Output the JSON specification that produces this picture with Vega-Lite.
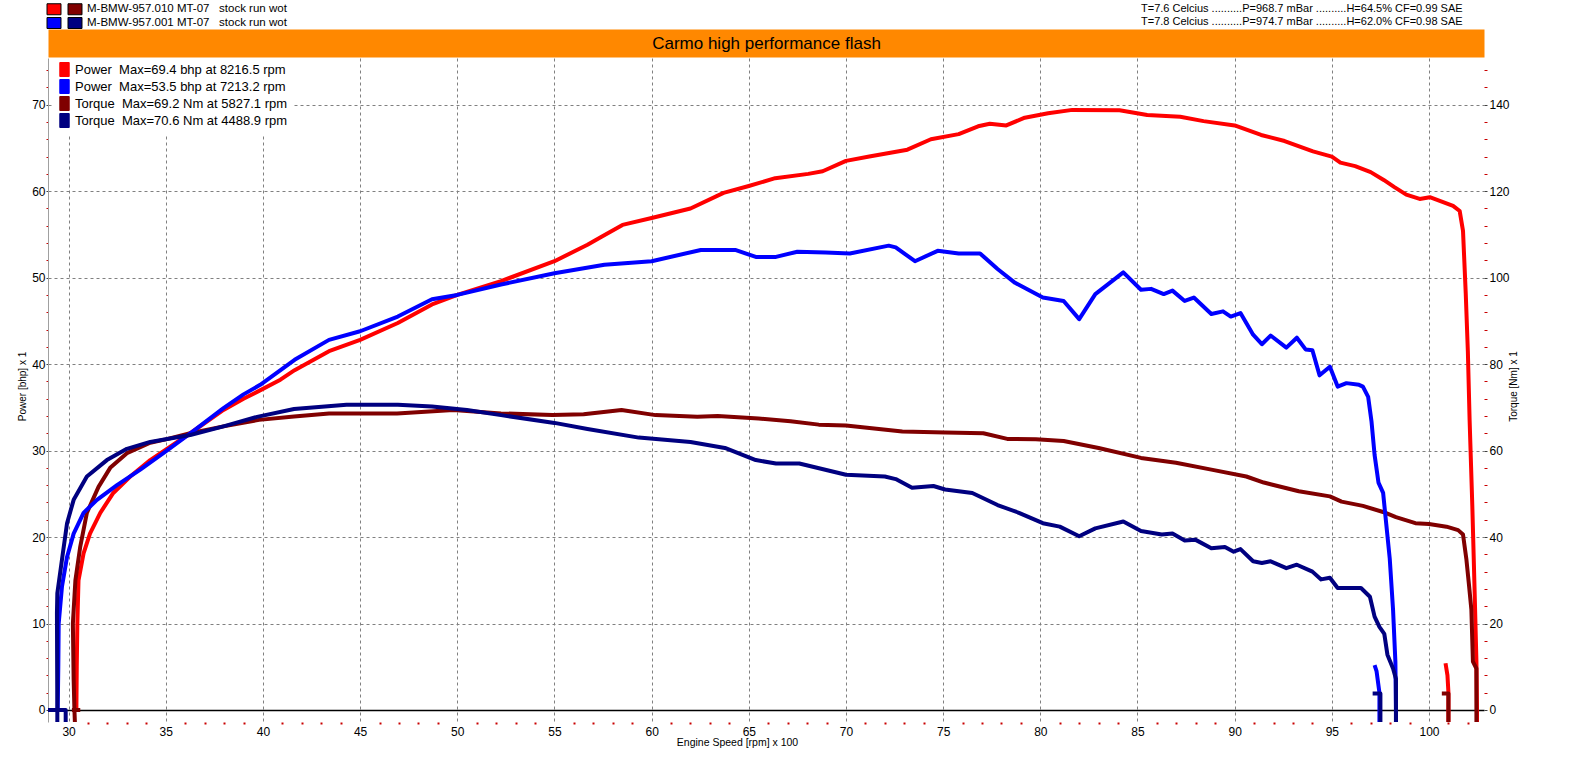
{
  "$schema": "https://vega.github.io/schema/vega-lite/v6.json",
  "width": 1436,
  "height": 664,
  "autosize": "none",
  "padding": {"left": 48, "top": 58, "right": 96, "bottom": 46},
  "background": "white",
  "title": {
    "text": [
      "T=7.6 Celcius ..........P=968.7 mBar ..........H=64.5% CF=0.99 SAE",
      "T=7.8 Celcius ..........P=974.7 mBar ..........H=62.0% CF=0.98 SAE"
    ],
    "anchor": "start",
    "frame": "group",
    "dx": 1093,
    "dy": 26,
    "offset": 2,
    "fontSize": 11,
    "fontWeight": "normal",
    "lineHeight": 13,
    "color": "black"
  },
  "datasets": {
    "p1": [
      {"s": "P1", "seg": "a", "rpm": 30.4, "v": 0}, {"s": "P1", "seg": "a", "rpm": 30.42, "v": 5},
      {"s": "P1", "seg": "a", "rpm": 30.45, "v": 10}, {"s": "P1", "seg": "a", "rpm": 30.51, "v": 15},
      {"s": "P1", "seg": "a", "rpm": 30.77, "v": 18.1}, {"s": "P1", "seg": "a", "rpm": 31.1, "v": 20.4},
      {"s": "P1", "seg": "a", "rpm": 31.63, "v": 22.8}, {"s": "P1", "seg": "a", "rpm": 32.3, "v": 25.1},
      {"s": "P1", "seg": "a", "rpm": 33.17, "v": 27.0}, {"s": "P1", "seg": "a", "rpm": 34.2, "v": 28.9},
      {"s": "P1", "seg": "a", "rpm": 35.0, "v": 30.1}, {"s": "P1", "seg": "a", "rpm": 36.26, "v": 32.0},
      {"s": "P1", "seg": "a", "rpm": 37.97, "v": 34.7}, {"s": "P1", "seg": "a", "rpm": 39.0, "v": 36.0},
      {"s": "P1", "seg": "a", "rpm": 39.8, "v": 36.9}, {"s": "P1", "seg": "a", "rpm": 40.9, "v": 38.2},
      {"s": "P1", "seg": "a", "rpm": 41.63, "v": 39.3}, {"s": "P1", "seg": "a", "rpm": 43.4, "v": 41.5},
      {"s": "P1", "seg": "a", "rpm": 45.0, "v": 42.8}, {"s": "P1", "seg": "a", "rpm": 46.94, "v": 44.75},
      {"s": "P1", "seg": "a", "rpm": 48.7, "v": 46.9}, {"s": "P1", "seg": "a", "rpm": 50.0, "v": 48.0},
      {"s": "P1", "seg": "a", "rpm": 52.25, "v": 49.6}, {"s": "P1", "seg": "a", "rpm": 55.0, "v": 51.9},
      {"s": "P1", "seg": "a", "rpm": 56.7, "v": 53.8}, {"s": "P1", "seg": "a", "rpm": 57.4, "v": 54.7},
      {"s": "P1", "seg": "a", "rpm": 58.5, "v": 56.1}, {"s": "P1", "seg": "a", "rpm": 60.0, "v": 56.9},
      {"s": "P1", "seg": "a", "rpm": 62.0, "v": 58.0}, {"s": "P1", "seg": "a", "rpm": 63.7, "v": 59.8},
      {"s": "P1", "seg": "a", "rpm": 65.0, "v": 60.6}, {"s": "P1", "seg": "a", "rpm": 66.36, "v": 61.5},
      {"s": "P1", "seg": "a", "rpm": 68.06, "v": 62.0}, {"s": "P1", "seg": "a", "rpm": 68.8, "v": 62.3},
      {"s": "P1", "seg": "a", "rpm": 70.0, "v": 63.5}, {"s": "P1", "seg": "a", "rpm": 71.2, "v": 64.0},
      {"s": "P1", "seg": "a", "rpm": 73.16, "v": 64.8}, {"s": "P1", "seg": "a", "rpm": 74.37, "v": 66.0},
      {"s": "P1", "seg": "a", "rpm": 75.8, "v": 66.6}, {"s": "P1", "seg": "a", "rpm": 76.8, "v": 67.5},
      {"s": "P1", "seg": "a", "rpm": 77.4, "v": 67.8}, {"s": "P1", "seg": "a", "rpm": 78.25, "v": 67.6},
      {"s": "P1", "seg": "a", "rpm": 79.2, "v": 68.5}, {"s": "P1", "seg": "a", "rpm": 80.4, "v": 69.0},
      {"s": "P1", "seg": "a", "rpm": 81.65, "v": 69.4}, {"s": "P1", "seg": "a", "rpm": 84.08, "v": 69.35},
      {"s": "P1", "seg": "a", "rpm": 85.5, "v": 68.8}, {"s": "P1", "seg": "a", "rpm": 87.2, "v": 68.6},
      {"s": "P1", "seg": "a", "rpm": 88.4, "v": 68.1}, {"s": "P1", "seg": "a", "rpm": 90.0, "v": 67.6},
      {"s": "P1", "seg": "a", "rpm": 91.36, "v": 66.5}, {"s": "P1", "seg": "a", "rpm": 92.57, "v": 65.8},
      {"s": "P1", "seg": "a", "rpm": 94.03, "v": 64.6}, {"s": "P1", "seg": "a", "rpm": 95.0, "v": 64.0},
      {"s": "P1", "seg": "a", "rpm": 95.44, "v": 63.3}, {"s": "P1", "seg": "a", "rpm": 96.2, "v": 62.9},
      {"s": "P1", "seg": "a", "rpm": 97.0, "v": 62.2}, {"s": "P1", "seg": "a", "rpm": 97.67, "v": 61.3},
      {"s": "P1", "seg": "a", "rpm": 98.2, "v": 60.5}, {"s": "P1", "seg": "a", "rpm": 98.83, "v": 59.6},
      {"s": "P1", "seg": "a", "rpm": 99.52, "v": 59.1}, {"s": "P1", "seg": "a", "rpm": 100.04, "v": 59.3},
      {"s": "P1", "seg": "a", "rpm": 101.24, "v": 58.3}, {"s": "P1", "seg": "a", "rpm": 101.58, "v": 57.7},
      {"s": "P1", "seg": "a", "rpm": 101.75, "v": 55.4}, {"s": "P1", "seg": "a", "rpm": 101.89, "v": 48.2},
      {"s": "P1", "seg": "a", "rpm": 102.0, "v": 41.4}, {"s": "P1", "seg": "a", "rpm": 102.09, "v": 33.5},
      {"s": "P1", "seg": "a", "rpm": 102.23, "v": 23.5}, {"s": "P1", "seg": "a", "rpm": 102.35, "v": 13.5},
      {"s": "P1", "seg": "a", "rpm": 102.44, "v": 5.6}, {"s": "P1", "seg": "a", "rpm": 102.47, "v": 0},
      {"s": "P1", "seg": "a", "rpm": 102.47, "v": -3},
      {"s": "P1", "seg": "b", "rpm": 100.85, "v": 5.4}, {"s": "P1", "seg": "b", "rpm": 100.95, "v": 4.0},
      {"s": "P1", "seg": "b", "rpm": 101.0, "v": 2.0}, {"s": "P1", "seg": "b", "rpm": 101.0, "v": -3}
    ],
    "p2": [
      {"s": "P2", "seg": "a", "rpm": 29.44, "v": 0}, {"s": "P2", "seg": "a", "rpm": 29.47, "v": 5},
      {"s": "P2", "seg": "a", "rpm": 29.49, "v": 10}, {"s": "P2", "seg": "a", "rpm": 29.66, "v": 14.3},
      {"s": "P2", "seg": "a", "rpm": 29.92, "v": 17.7}, {"s": "P2", "seg": "a", "rpm": 30.26, "v": 20.4},
      {"s": "P2", "seg": "a", "rpm": 30.77, "v": 22.8}, {"s": "P2", "seg": "a", "rpm": 31.46, "v": 24.3},
      {"s": "P2", "seg": "a", "rpm": 32.49, "v": 26.0}, {"s": "P2", "seg": "a", "rpm": 33.69, "v": 27.8},
      {"s": "P2", "seg": "a", "rpm": 35.0, "v": 29.9}, {"s": "P2", "seg": "a", "rpm": 36.26, "v": 32.0},
      {"s": "P2", "seg": "a", "rpm": 37.97, "v": 34.9}, {"s": "P2", "seg": "a", "rpm": 39.0, "v": 36.5},
      {"s": "P2", "seg": "a", "rpm": 39.86, "v": 37.6}, {"s": "P2", "seg": "a", "rpm": 41.63, "v": 40.5},
      {"s": "P2", "seg": "a", "rpm": 43.4, "v": 42.8}, {"s": "P2", "seg": "a", "rpm": 45.0, "v": 43.8},
      {"s": "P2", "seg": "a", "rpm": 46.94, "v": 45.5}, {"s": "P2", "seg": "a", "rpm": 48.7, "v": 47.5},
      {"s": "P2", "seg": "a", "rpm": 50.0, "v": 48.0}, {"s": "P2", "seg": "a", "rpm": 52.25, "v": 49.2},
      {"s": "P2", "seg": "a", "rpm": 55.0, "v": 50.5}, {"s": "P2", "seg": "a", "rpm": 57.57, "v": 51.5},
      {"s": "P2", "seg": "a", "rpm": 60.0, "v": 51.9}, {"s": "P2", "seg": "a", "rpm": 62.53, "v": 53.2},
      {"s": "P2", "seg": "a", "rpm": 64.3, "v": 53.2}, {"s": "P2", "seg": "a", "rpm": 65.36, "v": 52.4},
      {"s": "P2", "seg": "a", "rpm": 66.4, "v": 52.4}, {"s": "P2", "seg": "a", "rpm": 67.5, "v": 53.0},
      {"s": "P2", "seg": "a", "rpm": 68.95, "v": 52.9}, {"s": "P2", "seg": "a", "rpm": 70.2, "v": 52.8},
      {"s": "P2", "seg": "a", "rpm": 72.2, "v": 53.7}, {"s": "P2", "seg": "a", "rpm": 72.56, "v": 53.5},
      {"s": "P2", "seg": "a", "rpm": 73.55, "v": 51.9}, {"s": "P2", "seg": "a", "rpm": 74.72, "v": 53.1},
      {"s": "P2", "seg": "a", "rpm": 75.8, "v": 52.8}, {"s": "P2", "seg": "a", "rpm": 76.9, "v": 52.8},
      {"s": "P2", "seg": "a", "rpm": 77.8, "v": 51.0}, {"s": "P2", "seg": "a", "rpm": 78.7, "v": 49.4},
      {"s": "P2", "seg": "a", "rpm": 80.13, "v": 47.7}, {"s": "P2", "seg": "a", "rpm": 81.2, "v": 47.3},
      {"s": "P2", "seg": "a", "rpm": 82.0, "v": 45.2}, {"s": "P2", "seg": "a", "rpm": 82.83, "v": 48.1},
      {"s": "P2", "seg": "a", "rpm": 84.27, "v": 50.6}, {"s": "P2", "seg": "a", "rpm": 85.18, "v": 48.6},
      {"s": "P2", "seg": "a", "rpm": 85.7, "v": 48.7}, {"s": "P2", "seg": "a", "rpm": 86.35, "v": 48.1},
      {"s": "P2", "seg": "a", "rpm": 86.8, "v": 48.5}, {"s": "P2", "seg": "a", "rpm": 87.43, "v": 47.3},
      {"s": "P2", "seg": "a", "rpm": 87.9, "v": 47.7}, {"s": "P2", "seg": "a", "rpm": 88.8, "v": 45.8},
      {"s": "P2", "seg": "a", "rpm": 89.4, "v": 46.1}, {"s": "P2", "seg": "a", "rpm": 89.8, "v": 45.5},
      {"s": "P2", "seg": "a", "rpm": 90.3, "v": 45.9}, {"s": "P2", "seg": "a", "rpm": 90.95, "v": 43.4},
      {"s": "P2", "seg": "a", "rpm": 91.4, "v": 42.3}, {"s": "P2", "seg": "a", "rpm": 91.85, "v": 43.3},
      {"s": "P2", "seg": "a", "rpm": 92.66, "v": 41.9}, {"s": "P2", "seg": "a", "rpm": 93.2, "v": 43.05},
      {"s": "P2", "seg": "a", "rpm": 93.65, "v": 41.7}, {"s": "P2", "seg": "a", "rpm": 94.0, "v": 41.6},
      {"s": "P2", "seg": "a", "rpm": 94.37, "v": 38.7}, {"s": "P2", "seg": "a", "rpm": 94.9, "v": 39.7},
      {"s": "P2", "seg": "a", "rpm": 95.3, "v": 37.4}, {"s": "P2", "seg": "a", "rpm": 95.75, "v": 37.8},
      {"s": "P2", "seg": "a", "rpm": 96.4, "v": 37.6}, {"s": "P2", "seg": "a", "rpm": 96.6, "v": 37.4},
      {"s": "P2", "seg": "a", "rpm": 96.87, "v": 36.2}, {"s": "P2", "seg": "a", "rpm": 97.04, "v": 33.4},
      {"s": "P2", "seg": "a", "rpm": 97.2, "v": 29.5}, {"s": "P2", "seg": "a", "rpm": 97.4, "v": 26.3},
      {"s": "P2", "seg": "a", "rpm": 97.64, "v": 25.1}, {"s": "P2", "seg": "a", "rpm": 97.8, "v": 21.5},
      {"s": "P2", "seg": "a", "rpm": 97.98, "v": 17.5}, {"s": "P2", "seg": "a", "rpm": 98.15, "v": 11.6},
      {"s": "P2", "seg": "a", "rpm": 98.27, "v": 5.6}, {"s": "P2", "seg": "a", "rpm": 98.3, "v": 0},
      {"s": "P2", "seg": "a", "rpm": 98.3, "v": -3},
      {"s": "P2", "seg": "b", "rpm": 97.2, "v": 5.2}, {"s": "P2", "seg": "b", "rpm": 97.3, "v": 4.5},
      {"s": "P2", "seg": "b", "rpm": 97.45, "v": 2.0}, {"s": "P2", "seg": "b", "rpm": 97.45, "v": -3}
    ],
    "t1": [
      {"s": "T1", "seg": "c", "rpm": 30.17, "v": 0}, {"s": "T1", "seg": "c", "rpm": 30.6, "v": 0},
      {"s": "T1", "seg": "a", "rpm": 30.35, "v": -6}, {"s": "T1", "seg": "a", "rpm": 30.3, "v": 0},
      {"s": "T1", "seg": "a", "rpm": 30.26, "v": 7}, {"s": "T1", "seg": "a", "rpm": 30.22, "v": 20},
      {"s": "T1", "seg": "a", "rpm": 30.35, "v": 30}, {"s": "T1", "seg": "a", "rpm": 30.6, "v": 37.8},
      {"s": "T1", "seg": "a", "rpm": 30.94, "v": 45.6}, {"s": "T1", "seg": "a", "rpm": 31.54, "v": 51.6},
      {"s": "T1", "seg": "a", "rpm": 32.14, "v": 56}, {"s": "T1", "seg": "a", "rpm": 33.0, "v": 59.4},
      {"s": "T1", "seg": "a", "rpm": 34.2, "v": 61.8}, {"s": "T1", "seg": "a", "rpm": 35.0, "v": 62.6},
      {"s": "T1", "seg": "a", "rpm": 36.26, "v": 64}, {"s": "T1", "seg": "a", "rpm": 37.97, "v": 65.6},
      {"s": "T1", "seg": "a", "rpm": 39.8, "v": 67.1}, {"s": "T1", "seg": "a", "rpm": 41.6, "v": 67.9},
      {"s": "T1", "seg": "a", "rpm": 43.4, "v": 68.6}, {"s": "T1", "seg": "a", "rpm": 46.9, "v": 68.6},
      {"s": "T1", "seg": "a", "rpm": 49.8, "v": 69.4}, {"s": "T1", "seg": "a", "rpm": 52.25, "v": 68.6},
      {"s": "T1", "seg": "a", "rpm": 54.9, "v": 68.2}, {"s": "T1", "seg": "a", "rpm": 56.5, "v": 68.4},
      {"s": "T1", "seg": "a", "rpm": 58.45, "v": 69.4}, {"s": "T1", "seg": "a", "rpm": 60.2, "v": 68.2},
      {"s": "T1", "seg": "a", "rpm": 62.35, "v": 67.8}, {"s": "T1", "seg": "a", "rpm": 63.4, "v": 68},
      {"s": "T1", "seg": "a", "rpm": 65.5, "v": 67.4}, {"s": "T1", "seg": "a", "rpm": 67.15, "v": 66.8},
      {"s": "T1", "seg": "a", "rpm": 68.6, "v": 66}, {"s": "T1", "seg": "a", "rpm": 70.0, "v": 65.8},
      {"s": "T1", "seg": "a", "rpm": 72.9, "v": 64.4}, {"s": "T1", "seg": "a", "rpm": 75.1, "v": 64.2},
      {"s": "T1", "seg": "a", "rpm": 77.07, "v": 64}, {"s": "T1", "seg": "a", "rpm": 78.3, "v": 62.7},
      {"s": "T1", "seg": "a", "rpm": 79.77, "v": 62.6}, {"s": "T1", "seg": "a", "rpm": 81.2, "v": 62.2},
      {"s": "T1", "seg": "a", "rpm": 83.0, "v": 60.6}, {"s": "T1", "seg": "a", "rpm": 85.18, "v": 58.3},
      {"s": "T1", "seg": "a", "rpm": 86.98, "v": 57.2}, {"s": "T1", "seg": "a", "rpm": 88.8, "v": 55.6},
      {"s": "T1", "seg": "a", "rpm": 90.6, "v": 54}, {"s": "T1", "seg": "a", "rpm": 91.5, "v": 52.6},
      {"s": "T1", "seg": "a", "rpm": 93.3, "v": 50.6}, {"s": "T1", "seg": "a", "rpm": 94.9, "v": 49.4},
      {"s": "T1", "seg": "a", "rpm": 95.5, "v": 48.2}, {"s": "T1", "seg": "a", "rpm": 96.6, "v": 47.2},
      {"s": "T1", "seg": "a", "rpm": 97.64, "v": 45.8}, {"s": "T1", "seg": "a", "rpm": 98.3, "v": 44.6},
      {"s": "T1", "seg": "a", "rpm": 99.3, "v": 43.2}, {"s": "T1", "seg": "a", "rpm": 100.0, "v": 43},
      {"s": "T1", "seg": "a", "rpm": 100.9, "v": 42.4}, {"s": "T1", "seg": "a", "rpm": 101.5, "v": 41.6},
      {"s": "T1", "seg": "a", "rpm": 101.75, "v": 40.6}, {"s": "T1", "seg": "a", "rpm": 101.92, "v": 35},
      {"s": "T1", "seg": "a", "rpm": 102.06, "v": 28.8}, {"s": "T1", "seg": "a", "rpm": 102.18, "v": 23.2},
      {"s": "T1", "seg": "a", "rpm": 102.26, "v": 11.2}, {"s": "T1", "seg": "a", "rpm": 102.44, "v": 9.6},
      {"s": "T1", "seg": "a", "rpm": 102.44, "v": 0}, {"s": "T1", "seg": "a", "rpm": 102.44, "v": -6},
      {"s": "T1", "seg": "b", "rpm": 100.66, "v": 3.8}, {"s": "T1", "seg": "b", "rpm": 101.0, "v": 3.8},
      {"s": "T1", "seg": "b", "rpm": 101.0, "v": -6}
    ],
    "t2": [
      {"s": "T2", "seg": "c", "rpm": 28.94, "v": 0}, {"s": "T2", "seg": "c", "rpm": 29.85, "v": 0},
      {"s": "T2", "seg": "c", "rpm": 29.85, "v": -6},
      {"s": "T2", "seg": "a", "rpm": 29.42, "v": -6}, {"s": "T2", "seg": "a", "rpm": 29.42, "v": 0},
      {"s": "T2", "seg": "a", "rpm": 29.4, "v": 22.4}, {"s": "T2", "seg": "a", "rpm": 29.42, "v": 27},
      {"s": "T2", "seg": "a", "rpm": 29.66, "v": 34.8}, {"s": "T2", "seg": "a", "rpm": 29.92, "v": 43.2},
      {"s": "T2", "seg": "a", "rpm": 30.26, "v": 48.6}, {"s": "T2", "seg": "a", "rpm": 30.94, "v": 54},
      {"s": "T2", "seg": "a", "rpm": 31.97, "v": 57.8}, {"s": "T2", "seg": "a", "rpm": 33.0, "v": 60.4},
      {"s": "T2", "seg": "a", "rpm": 34.2, "v": 62}, {"s": "T2", "seg": "a", "rpm": 35.0, "v": 62.6},
      {"s": "T2", "seg": "a", "rpm": 36.26, "v": 63.6}, {"s": "T2", "seg": "a", "rpm": 37.97, "v": 65.6},
      {"s": "T2", "seg": "a", "rpm": 39.7, "v": 67.8}, {"s": "T2", "seg": "a", "rpm": 41.6, "v": 69.6},
      {"s": "T2", "seg": "a", "rpm": 44.3, "v": 70.6}, {"s": "T2", "seg": "a", "rpm": 46.94, "v": 70.6},
      {"s": "T2", "seg": "a", "rpm": 48.7, "v": 70.2}, {"s": "T2", "seg": "a", "rpm": 50.5, "v": 69.4},
      {"s": "T2", "seg": "a", "rpm": 52.25, "v": 68.2}, {"s": "T2", "seg": "a", "rpm": 55.0, "v": 66.4},
      {"s": "T2", "seg": "a", "rpm": 56.7, "v": 65}, {"s": "T2", "seg": "a", "rpm": 59.34, "v": 63},
      {"s": "T2", "seg": "a", "rpm": 62.0, "v": 62}, {"s": "T2", "seg": "a", "rpm": 63.77, "v": 60.6},
      {"s": "T2", "seg": "a", "rpm": 65.36, "v": 57.8}, {"s": "T2", "seg": "a", "rpm": 66.4, "v": 57},
      {"s": "T2", "seg": "a", "rpm": 67.6, "v": 57}, {"s": "T2", "seg": "a", "rpm": 70.0, "v": 54.4},
      {"s": "T2", "seg": "a", "rpm": 72.0, "v": 54}, {"s": "T2", "seg": "a", "rpm": 72.56, "v": 53.4},
      {"s": "T2", "seg": "a", "rpm": 73.4, "v": 51.4}, {"s": "T2", "seg": "a", "rpm": 74.5, "v": 51.8},
      {"s": "T2", "seg": "a", "rpm": 75.1, "v": 51}, {"s": "T2", "seg": "a", "rpm": 76.5, "v": 50.2},
      {"s": "T2", "seg": "a", "rpm": 77.8, "v": 47.4}, {"s": "T2", "seg": "a", "rpm": 78.9, "v": 45.6},
      {"s": "T2", "seg": "a", "rpm": 80.13, "v": 43.2}, {"s": "T2", "seg": "a", "rpm": 81.0, "v": 42.4},
      {"s": "T2", "seg": "a", "rpm": 82.0, "v": 40.2}, {"s": "T2", "seg": "a", "rpm": 82.83, "v": 42},
      {"s": "T2", "seg": "a", "rpm": 84.27, "v": 43.6}, {"s": "T2", "seg": "a", "rpm": 85.18, "v": 41.4},
      {"s": "T2", "seg": "a", "rpm": 86.25, "v": 40.6}, {"s": "T2", "seg": "a", "rpm": 86.8, "v": 40.8},
      {"s": "T2", "seg": "a", "rpm": 87.43, "v": 39.2}, {"s": "T2", "seg": "a", "rpm": 87.97, "v": 39.4},
      {"s": "T2", "seg": "a", "rpm": 88.8, "v": 37.4}, {"s": "T2", "seg": "a", "rpm": 89.5, "v": 37.7},
      {"s": "T2", "seg": "a", "rpm": 89.95, "v": 36.6}, {"s": "T2", "seg": "a", "rpm": 90.3, "v": 37.2},
      {"s": "T2", "seg": "a", "rpm": 90.95, "v": 34.4}, {"s": "T2", "seg": "a", "rpm": 91.4, "v": 34},
      {"s": "T2", "seg": "a", "rpm": 91.85, "v": 34.4}, {"s": "T2", "seg": "a", "rpm": 92.66, "v": 32.8},
      {"s": "T2", "seg": "a", "rpm": 93.2, "v": 33.6}, {"s": "T2", "seg": "a", "rpm": 94.0, "v": 32},
      {"s": "T2", "seg": "a", "rpm": 94.45, "v": 30.2}, {"s": "T2", "seg": "a", "rpm": 94.9, "v": 30.6},
      {"s": "T2", "seg": "a", "rpm": 95.3, "v": 28.2}, {"s": "T2", "seg": "a", "rpm": 96.5, "v": 28.2},
      {"s": "T2", "seg": "a", "rpm": 96.96, "v": 26.2}, {"s": "T2", "seg": "a", "rpm": 97.2, "v": 21.6},
      {"s": "T2", "seg": "a", "rpm": 97.45, "v": 19.2}, {"s": "T2", "seg": "a", "rpm": 97.7, "v": 17.6},
      {"s": "T2", "seg": "a", "rpm": 97.86, "v": 12.8}, {"s": "T2", "seg": "a", "rpm": 98.15, "v": 9.6},
      {"s": "T2", "seg": "a", "rpm": 98.3, "v": 7.2}, {"s": "T2", "seg": "a", "rpm": 98.3, "v": 0},
      {"s": "T2", "seg": "a", "rpm": 98.3, "v": -6},
      {"s": "T2", "seg": "b", "rpm": 97.1, "v": 3.8}, {"s": "T2", "seg": "b", "rpm": 97.5, "v": 3.8},
      {"s": "T2", "seg": "b", "rpm": 97.5, "v": -6}
    ],
    "hdr": [{"k": "a"}, {"k": "b"}, {"k": "c"}, {"k": "d"}]
  },
  "layer": [
    {
      "data": {"name": "p1"},
      "mark": {"type": "line", "strokeWidth": 4, "clip": true, "strokeJoin": "round"},
      "encoding": {
        "x": {
          "field": "rpm", "type": "quantitative",
          "scale": {"domain": [28.94, 102.83], "nice": false, "zero": false},
          "axis": {
            "orient": "bottom",
            "values": [30,31,32,33,34,35,36,37,38,39,40,41,42,43,44,45,46,47,48,49,50,51,52,53,54,55,56,57,58,59,60,61,62,63,64,65,66,67,68,69,70,71,72,73,74,75,76,77,78,79,80,81,82,83,84,85,86,87,88,89,90,91,92,93,94,95,96,97,98,99,100,101,102],
            "labelExpr": "datum.value % 5 === 0 ? datum.label : ''",
            "labelOverlap": false, "labelFlush": false, "labelBound": false,
            "labelFontSize": 12, "labelColor": "black", "labelPadding": 2,
            "tickSize": 2, "tickWidth": 2,
            "tickColor": {"condition": {"test": "datum.value % 5 === 0", "value": "transparent"}, "value": "#C80000"},
            "domain": false,
            "grid": true, "gridColor": "#808080", "gridDash": [3, 3],
            "gridOpacity": {"condition": {"test": "datum.value % 5 !== 0", "value": 0}, "value": 1},
            "title": "Engine Speed [rpm] x 100", "titleFontSize": 10.5, "titleFontWeight": "normal",
            "titleColor": "black", "titleX": 689, "titleY": 20, "titleBaseline": "middle", "titleAlign": "center"
          }
        },
        "y": {
          "field": "v", "type": "quantitative",
          "scale": {"domain": [-1.39, 75.4], "nice": false, "zero": false},
          "axis": {
            "orient": "left",
            "values": [0,2,4,6,8,10,12,14,16,18,20,22,24,26,28,30,32,34,36,38,40,42,44,46,48,50,52,54,56,58,60,62,64,66,68,70,72,74],
            "labelExpr": "datum.value % 10 === 0 ? datum.label : ''",
            "labelOverlap": false, "labelFlush": false, "labelBound": false,
            "labelFontSize": 12, "labelColor": "black", "labelPadding": 1,
            "tickSize": 2, "tickWidth": 1,
            "tickColor": {"condition": {"test": "datum.value % 10 === 0", "value": "#404040"}, "value": "#C80000"},
            "domain": true, "domainColor": "#A0A0A0",
            "grid": true,
            "gridColor": {"condition": {"test": "datum.value === 0", "value": "black"}, "value": "#808080"},
            "gridDash": {"condition": {"test": "datum.value === 0", "value": []}, "value": [3, 3]},
            "gridWidth": {"condition": {"test": "datum.value === 0", "value": 1.5}, "value": 1},
            "gridOpacity": {"condition": {"test": "datum.value % 10 !== 0", "value": 0}, "value": 1},
            "title": "Power [bhp] x 1", "titleFontSize": 10, "titleFontWeight": "normal", "titleColor": "black",
            "titleAngle": 270, "titleX": -26, "titleY": 328, "titleBaseline": "middle", "titleAlign": "center"
          }
        },
        "color": {
          "field": "s", "type": "nominal",
          "scale": {"domain": ["P1", "P2", "T1", "T2"], "range": ["#FF0000", "#0000FF", "#800000", "#000080"]},
          "legend": {
            "orient": "none", "legendX": 5, "legendY": 0, "title": null,
            "padding": 4, "fillColor": "white",
            "symbolType": "M-0.67,-1L0.67,-1L0.67,1L-0.67,1Z", "symbolSize": 196, "symbolStrokeWidth": 1,
            "labelFontSize": 13, "labelColor": "black", "labelOffset": 3, "labelLimit": 500, "rowPadding": -3.7,
            "labelExpr": "datum.label === 'P1' ? 'Power \u00a0Max=69.4 bhp at 8216.5 rpm' : datum.label === 'P2' ? 'Power \u00a0Max=53.5 bhp at 7213.2 rpm' : datum.label === 'T1' ? 'Torque \u00a0Max=69.2 Nm at 5827.1 rpm' : 'Torque \u00a0Max=70.6 Nm at 4488.9 rpm'",
            "encode": {"symbols": {"update": {"fill": {"scale": "color", "field": "value"}, "stroke": {"value": "black"}, "strokeWidth": {"value": 1}, "opacity": {"value": 1}}}}
          }
        },
        "detail": {"field": "seg"},
        "order": {"value": null}
      }
    },
    {
      "data": {"name": "t1"},
      "mark": {"type": "line", "strokeWidth": 4, "clip": true, "strokeJoin": "round"},
      "encoding": {
        "x": {
          "field": "rpm", "type": "quantitative",
          "scale": {"domain": [28.94, 102.83], "nice": false, "zero": false},
          "axis": {
            "orient": "top", "offset": 15,
            "domain": true, "domainColor": "#FF8800", "domainWidth": 28,
            "ticks": false, "labels": false, "grid": false,
            "title": "Carmo high performance flash", "titleFontSize": 17, "titleFontWeight": "normal",
            "titleColor": "black", "titleY": 0, "titleBaseline": "middle", "titleAnchor": "middle"
          }
        },
        "y": {
          "field": "v", "type": "quantitative",
          "scale": {"domain": [-2.78, 150.8], "nice": false, "zero": false},
          "axis": {
            "orient": "right",
            "values": [0,4,8,12,16,20,24,28,32,36,40,44,48,52,56,60,64,68,72,76,80,84,88,92,96,100,104,108,112,116,120,124,128,132,136,140,144,148],
            "labelExpr": "datum.value % 20 === 0 ? datum.label : ''",
            "labelOverlap": false, "labelFlush": false, "labelBound": false,
            "labelFontSize": 12, "labelColor": "black", "labelPadding": 2,
            "tickSize": 3, "tickWidth": 1,
            "tickColor": {"condition": {"test": "datum.value % 20 === 0", "value": "#404040"}, "value": "#C80000"},
            "domain": false, "grid": false,
            "title": "Torque [Nm] x 1", "titleFontSize": 10, "titleFontWeight": "normal", "titleColor": "black",
            "titleAngle": 270, "titleX": 29, "titleY": 328, "titleBaseline": "middle", "titleAlign": "center"
          }
        },
        "color": {
          "field": "s", "type": "nominal",
          "scale": {"domain": ["P1", "P2", "T1", "T2"], "range": ["#FF0000", "#0000FF", "#800000", "#000080"]}
        },
        "detail": {"field": "seg"},
        "order": {"value": null}
      }
    },
    {
      "data": {"name": "p2"},
      "mark": {"type": "line", "strokeWidth": 4, "clip": true, "strokeJoin": "round"},
      "encoding": {
        "x": {
          "field": "rpm", "type": "quantitative",
          "scale": {"domain": [28.94, 102.83], "nice": false, "zero": false}, "axis": null
        },
        "y": {
          "field": "v", "type": "quantitative",
          "scale": {"domain": [-1.39, 75.4], "nice": false, "zero": false}, "axis": null
        },
        "color": {
          "field": "s", "type": "nominal",
          "scale": {"domain": ["P1", "P2", "T1", "T2"], "range": ["#FF0000", "#0000FF", "#800000", "#000080"]}
        },
        "detail": {"field": "seg"},
        "order": {"value": null}
      }
    },
    {
      "data": {"name": "t2"},
      "mark": {"type": "line", "strokeWidth": 4, "clip": true, "strokeJoin": "round"},
      "encoding": {
        "x": {
          "field": "rpm", "type": "quantitative",
          "scale": {"domain": [28.94, 102.83], "nice": false, "zero": false}, "axis": null
        },
        "y": {
          "field": "v", "type": "quantitative",
          "scale": {"domain": [-2.78, 150.8], "nice": false, "zero": false}, "axis": null
        },
        "color": {
          "field": "s", "type": "nominal",
          "scale": {"domain": ["P1", "P2", "T1", "T2"], "range": ["#FF0000", "#0000FF", "#800000", "#000080"]}
        },
        "detail": {"field": "seg"},
        "order": {"value": null}
      }
    },
    {
      "data": {"name": "hdr"},
      "mark": {"type": "point", "filled": true, "opacity": 0},
      "encoding": {
        "fill": {
          "field": "k", "type": "nominal",
          "scale": {"domain": ["a", "c", "b", "d"], "range": ["#FF0000", "#0000FF", "#800000", "#000080"]},
          "legend": {
            "orient": "none", "legendX": 0, "legendY": -55, "title": null,
            "padding": 0, "columns": 2, "columnPadding": 0, "rowPadding": -2,
            "symbolType": "M-1.27,-1L1.27,-1L1.27,1L-1.27,1Z", "symbolSize": 121, "symbolStrokeWidth": 1, "symbolOpacity": 1,
            "labelFontSize": 11.5, "labelColor": "black", "labelOffset": 6, "labelLimit": 500,
            "labelExpr": "datum.label === 'b' ? 'M-BMW-957.010 MT-07 \u00a0 stock run wot' : datum.label === 'd' ? 'M-BMW-957.001 MT-07 \u00a0 stock run wot' : ''",
            "encode": {"symbols": {"update": {"fill": {"scale": "fill", "field": "value"}, "stroke": {"value": "black"}, "strokeWidth": {"value": 1}, "opacity": {"value": 1}}}}
          }
        }
      }
    }
  ],
  "resolve": {
    "scale": {"y": "independent"},
    "axis": {"x": "independent", "y": "independent"}
  },
  "config": {
    "font": "Liberation Sans",
    "axis": {"labelFont": "Liberation Sans", "titleFont": "Liberation Sans"},
    "legend": {"labelFont": "Liberation Sans", "titleFont": "Liberation Sans"},
    "title": {"font": "Liberation Sans"},
    "view": {"stroke": null}
  }
}
